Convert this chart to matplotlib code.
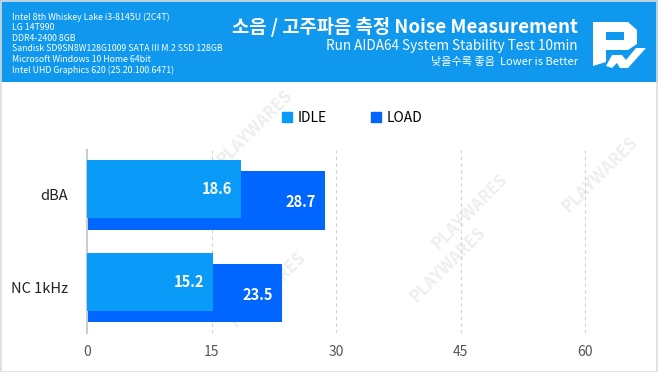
import numpy as np
import matplotlib.pyplot as plt
from matplotlib.patches import Rectangle, Polygon

plt.rcParams['font.family'] = ['Noto Sans CJK KR', 'DejaVu Sans']

categories = ['dBA', 'NC 1kHz']
idle = [18.6, 15.2]
load = [28.7, 23.5]
series = ['IDLE', 'LOAD']
xticks = [0, 15, 30, 45, 60]
specs = ['Intel 8th Whiskey Lake i3-8145U (2C4T)',
         'LG 14T990',
         'DDR4-2400 8GB',
         'Sandisk SD9SN8W128G1009 SATA III M.2 SSD 128GB',
         'Microsoft Windows 10 Home 64bit',
         'Intel UHD Graphics 620 (25.20.100.6471)']

W, H = 658, 372
c_idle = '#0a9af7'
c_load = '#0066ff'
c_head = '#0f98ee'

fig = plt.figure(figsize=(W / 100, H / 100), dpi=100)
fig.patch.set_facecolor('white')

def px(x, y):
    return x / W, 1 - y / H

# header band
fig.patches.append(Rectangle((0, 1 - 82 / H), 1, 82 / H, transform=fig.transFigure,
                             facecolor=c_head, edgecolor='none', zorder=-2))
# frame
fig.patches.append(Rectangle((0.5 / W, 0.5 / H), 1 - 1.5 / W, 1 - 1 / H, transform=fig.transFigure,
                             facecolor='none', edgecolor='#dddddd', lw=1.2, zorder=1))

for i, s in enumerate(specs):
    fig.text(*px(12, 17 + i * 10.6), s, color='white', fontsize=6.3, va='center', ha='left')

fig.text(*px(578, 27), '소음 / 고주파음 측정 Noise Measurement', color='white', fontsize=13.5,
         fontweight='bold', ha='right', va='center')
fig.text(*px(578, 46), 'Run AIDA64 System Stability Test 10min', color='white', fontsize=9.8,
         ha='right', va='center')
fig.text(*px(578, 62), '낮을수록 좋음  Lower is Better', color='white', fontsize=8,
         ha='right', va='center')

# logo (rough P / W shape)
logo_p = [(593, 22), (628, 22), (637, 30), (637, 44), (628, 50), (606, 50), (606, 62), (593, 66),
          (593, 22)]
logo_p_hole = [(606, 32), (624, 32), (624, 40), (606, 40)]
fig.patches.append(Polygon([px(*p) for p in logo_p], closed=True, transform=fig.transFigure,
                           facecolor='white', edgecolor='none', zorder=2))
fig.patches.append(Polygon([px(*p) for p in logo_p_hole], closed=True, transform=fig.transFigure,
                           facecolor=c_head, edgecolor='none', zorder=3))
logo_w = [(612, 55), (622, 55), (626, 60), (636, 48), (646, 48), (628, 68), (620, 68), (617, 63),
          (612, 68), (606, 66)]
fig.patches.append(Polygon([px(*p) for p in logo_w], closed=True, transform=fig.transFigure,
                           facecolor='white', edgecolor='none', zorder=2))

# watermarks (behind the chart)
for (wx, wy) in [(255, 128), (470, 212), (268, 290), (448, 265), (600, 175)]:
    fig.text(*px(wx, wy), 'PLAYWARES', color='#eeeeee', fontsize=12, fontweight='bold',
             rotation=45, ha='center', va='center', zorder=-1)

# main axes
x0, x1, ytop, ybot = 87, 635, 150, 333
ax = fig.add_axes([x0 / W, 1 - ybot / H, (x1 - x0) / W, (ybot - ytop) / H])
ax.set_facecolor('none')
ax.set_xlim(0, (x1 - x0) / 8.3)
pos = np.arange(len(categories))
ax.set_ylim(1.487, -0.481)

bh = 0.624
off = 0.062
ax.barh(pos + off, load, height=bh, color=c_load, zorder=2)
ax.barh(pos - off, idle, height=bh, color=c_idle, zorder=3)

for i in range(len(categories)):
    ax.annotate(f'{idle[i]:.1f}', (idle[i], pos[i] - off), xytext=(-6.5, 0), textcoords='offset points',
                ha='right', va='center', color='white', fontsize=10.5, fontweight='bold', zorder=4)
    ax.annotate(f'{load[i]:.1f}', (load[i], pos[i] + off + 0.02), xytext=(-6.5, 0),
                textcoords='offset points', ha='right', va='center', color='white', fontsize=10.5,
                fontweight='bold', zorder=4)

ax.set_yticks(pos)
ax.set_yticklabels(categories, fontsize=10.5, color='#222222')
ax.tick_params(axis='y', length=0, pad=14)
ax.set_xticks(xticks)
ax.set_xticklabels([str(t) for t in xticks], fontsize=10, color='#555555')
ax.tick_params(axis='x', length=0, pad=9)
for t in xticks[1:]:
    ax.axvline(t, color='#d0d0d0', lw=0.8, ls=(0, (3, 3)), zorder=1)
for s in ['top', 'right', 'bottom']:
    ax.spines[s].set_visible(False)
ax.spines['left'].set_color('#cccccc')
ax.spines['left'].set_linewidth(1.5)

handles = [Rectangle((0, 0), 1, 1, color=c_idle), Rectangle((0, 0), 1, 1, color=c_load)]
fig.legend(handles, series, loc='center', bbox_to_anchor=px(352, 118), ncol=2, frameon=False,
           fontsize=10, handlelength=0.7, handleheight=0.7, handletextpad=0.4, columnspacing=3.2)

fig.savefig('out.png', dpi=100)
